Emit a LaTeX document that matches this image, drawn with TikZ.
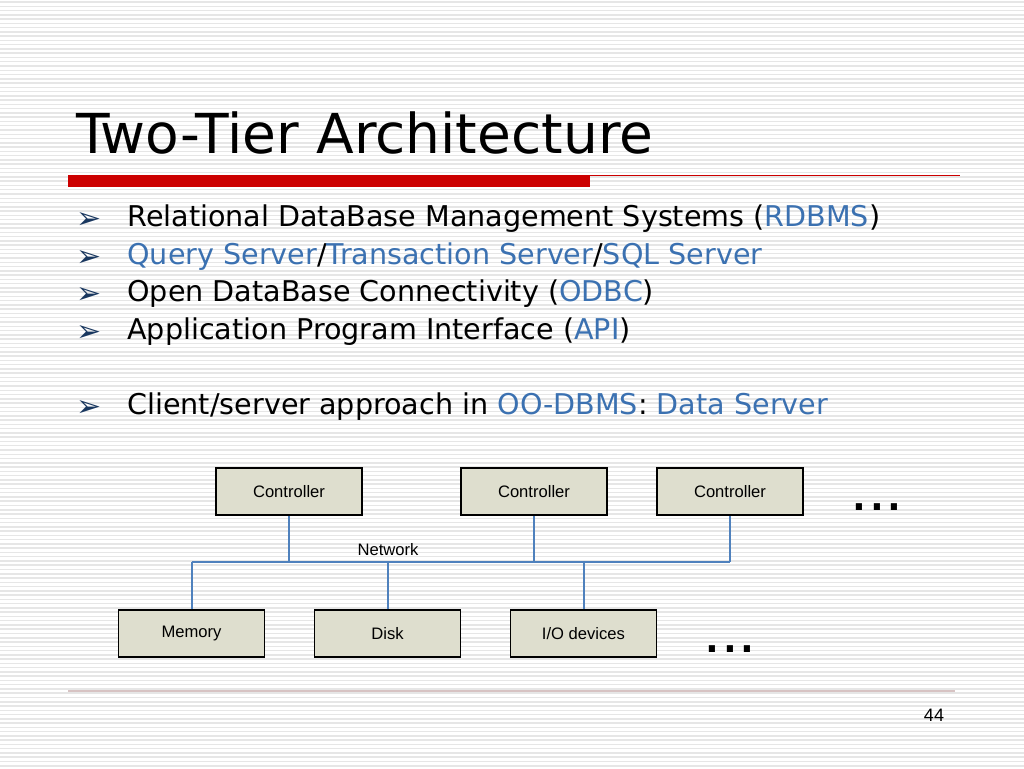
\documentclass[tikz,border=0pt]{standalone}
\usepackage{fontspec}
\setmainfont{DejaVu Sans}
\newfontfamily\arialfont{Liberation Sans}
\definecolor{stripecol}{RGB}{230,230,230}
\definecolor{barred}{RGB}{204,0,0}
\definecolor{linkblue}{RGB}{59,113,177}
\definecolor{bulletnavy}{RGB}{25,55,95}
\definecolor{boxfill}{RGB}{222,222,206}
\definecolor{busblue}{RGB}{79,129,189}
\definecolor{footcol}{RGB}{215,195,195}
\begin{document}
\begin{tikzpicture}[x=0.5pt,y=-0.5pt,
  stripeline/.style={draw=stripecol,line width=0.75pt},
  titletext/.style={anchor=base west,inner sep=0pt,font=\fontsize{27.5}{32}\selectfont},
  bullettext/.style={anchor=base west,inner sep=0pt,font=\fontsize{14.3}{17}\selectfont},
  bulletmark/.style={anchor=base west,inner sep=0pt,text=bulletnavy,font=\fontsize{15}{17}\selectfont},
  hw/.style={draw=black,line width=0.75pt,fill=boxfill,minimum width=73pt,minimum height=23.5pt,inner sep=0pt,font=\arialfont\fontsize{8.3}{10}\selectfont},
  bus/.style={draw=busblue,line width=1pt},
  dotstext/.style={anchor=base,inner sep=0pt,font=\arialfont\fontsize{32}{34}\selectfont}
]
\useasboundingbox (0,0) rectangle (1024,768);
\fill[white] (0,0) rectangle (1024,768);
\foreach \i in {0,...,179} \draw[stripeline] (0,{\i*4.2667+2}) -- (1024,{\i*4.2667+2});

% title
\node[titletext] (title) at (76,153) {Two-Tier Architecture};
\fill[barred] (68,175) rectangle (590,187);
\draw[barred,line width=0.6pt] (590,175.5) -- (960,175.5);

% bullets
\node[bulletmark] (m1) at (76,228) {➢};
\node[bullettext] (b1) at (127,226) {Relational DataBase Management Systems (\textcolor{linkblue}{RDBMS})};
\node[bulletmark] (m2) at (76,266) {➢};
\node[bullettext] (b2) at (127,264) {\textcolor{linkblue}{Query Server}/\textcolor{linkblue}{Transaction Server}/\textcolor{linkblue}{SQL Server}};
\node[bulletmark] (m3) at (76,303) {➢};
\node[bullettext] (b3) at (127,301) {Open DataBase Connectivity (\textcolor{linkblue}{ODBC})};
\node[bulletmark] (m4) at (76,341) {➢};
\node[bullettext] (b4) at (127,339) {Application Program Interface (\textcolor{linkblue}{API})};
\node[bulletmark] (m5) at (76,416) {➢};
\node[bullettext] (b5) at (127,414) {Client/server approach in \textcolor{linkblue}{OO-DBMS}: \textcolor{linkblue}{Data Server}};

% diagram
\node[hw] (c1) at (289,491.5) {Controller};
\node[hw] (c2) at (534,491.5) {Controller};
\node[hw] (c3) at (730,491.5) {Controller};
\node[hw] (mem) at (191.5,633.5) {Memory};
\node[hw] (disk) at (387.5,633.5) {Disk};
\node[hw] (io) at (583.5,633.5) {I/O devices};
\coordinate (busy) at (0,562);
\draw[bus] (mem.north |- busy) -- (c3.south |- busy);
\draw[bus] (c1.south) -- (c1.south |- busy);
\draw[bus] (c2.south) -- (c2.south |- busy);
\draw[bus] (c3.south) -- (c3.south |- busy);
\draw[bus] (mem.north) -- (mem.north |- busy);
\draw[bus] (disk.north) -- (disk.north |- busy);
\draw[bus] (io.north) -- (io.north |- busy);
\node[anchor=base,inner sep=0pt,font=\arialfont\fontsize{8.3}{10}\selectfont] (net) at (388,555) {Network};
\node[dotstext] (dots1) at (877,510) {...};
\node[dotstext] (dots2) at (730,652) {...};

% footer
\draw[footcol,line width=0.6pt] (68,691) -- (955,691);
\node[anchor=base,inner sep=0pt,font=\arialfont\fontsize{9}{11}\selectfont] (pg) at (934,721) {44};
\end{tikzpicture}
\end{document}
